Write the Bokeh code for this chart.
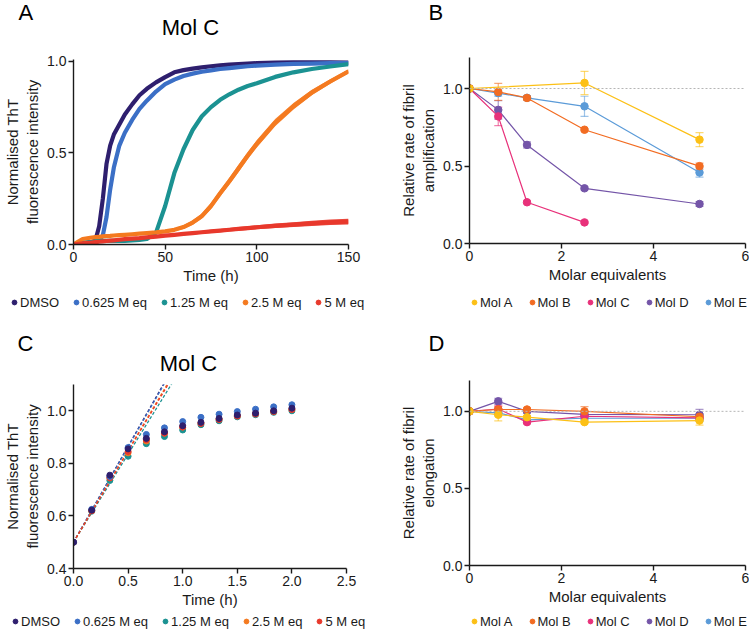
from bokeh.plotting import figure
from bokeh.models import (ColumnDataSource, Legend, LegendItem, Span, Whisker,
                          FixedTicker, NumeralTickFormatter, Range1d, TeeHead)
from bokeh.core.properties import value
from bokeh.layouts import column, row
from bokeh.embed import file_html
from bokeh.resources import INLINE

FONT = "Liberation Sans"
INK = "#1a1a1a"

# ---------------- Panel A : ThT kinetics (Mol C) ----------------
conc_labels = ["DMSO", "0.625 M eq", "1.25 M eq", "2.5 M eq", "5 M eq"]
conc_colors = ["#2e1f6e", "#3b6fc6", "#1b9292", "#f47a20", "#e8392c"]

time_h = [0, 5, 10, 12, 14, 16, 18, 20, 22, 25, 28, 32, 36, 40, 45, 50, 55, 60, 65,
          70, 75, 80, 85, 90, 95, 100, 110, 120, 130, 140, 150]
a_dmso = [0.0, 0.005, 0.012, 0.025, 0.1, 0.25, 0.44, 0.54, 0.6, 0.655, 0.71, 0.765,
          0.815, 0.85, 0.885, 0.914, 0.94, 0.952, 0.96, 0.967, 0.973, 0.978, 0.982,
          0.985, 0.988, 0.99, 0.993, 0.995, 0.995, 0.995, 0.993]
a_0625 = [0.0, 0.004, 0.008, 0.012, 0.02, 0.05, 0.15, 0.3, 0.42, 0.54, 0.61, 0.68,
          0.74, 0.785, 0.835, 0.875, 0.9, 0.92, 0.933, 0.943, 0.951, 0.958, 0.963,
          0.968, 0.973, 0.977, 0.982, 0.986, 0.988, 0.99, 0.99]
a_125 = [0.0, 0.01, 0.015, 0.018, 0.02, 0.02, 0.02, 0.02, 0.02, 0.02, 0.02, 0.022,
         0.025, 0.03, 0.065, 0.21, 0.39, 0.52, 0.625, 0.7, 0.75, 0.79, 0.82, 0.845,
         0.865, 0.88, 0.915, 0.94, 0.958, 0.972, 0.985]
a_25 = [0.0, 0.03, 0.038, 0.04, 0.042, 0.044, 0.046, 0.047, 0.049, 0.051, 0.053,
        0.056, 0.059, 0.062, 0.066, 0.072, 0.08, 0.095, 0.12, 0.155, 0.21, 0.28, 0.345,
        0.415, 0.485, 0.55, 0.665, 0.755, 0.83, 0.89, 0.945]
a_25_err = [0.0, 0.004, 0.004, 0.004, 0.004, 0.004, 0.004, 0.004, 0.004, 0.004, 0.004,
            0.004, 0.004, 0.004, 0.005, 0.006, 0.008, 0.01, 0.012, 0.014, 0.016, 0.018,
            0.019, 0.02, 0.02, 0.02, 0.02, 0.018, 0.015, 0.012, 0.01]
a_5 = [0.0, 0.006, 0.011, 0.013, 0.015, 0.017, 0.019, 0.021, 0.023, 0.026, 0.029,
       0.032, 0.035, 0.039, 0.043, 0.048, 0.053, 0.058, 0.0625, 0.067, 0.0715, 0.076,
       0.0805, 0.085, 0.0895, 0.094, 0.102, 0.109, 0.115, 0.121, 0.125]
a_5_err = [0.0, 0.001, 0.002, 0.002, 0.002, 0.003, 0.003, 0.003, 0.003, 0.004, 0.004,
           0.004, 0.005, 0.005, 0.005, 0.006, 0.006, 0.007, 0.0075, 0.008, 0.0085, 0.009,
           0.0095, 0.01, 0.0105, 0.011, 0.012, 0.013, 0.014, 0.015, 0.016]

# ---------------- Panel B : relative rate of fibril amplification ----------------
mol_labels = ["Mol A", "Mol B", "Mol C", "Mol D", "Mol E"]
mol_colors = ["#fcc016", "#f26c22", "#e8317a", "#7455a8", "#5b9bd8"]

b_x = {
    "Mol A": [0, 2.5, 5],
    "Mol B": [0, 0.625, 1.25, 2.5, 5],
    "Mol C": [0, 0.625, 1.25, 2.5],
    "Mol D": [0, 0.625, 1.25, 2.5, 5],
    "Mol E": [0, 0.625, 1.25, 2.5, 5],
}
b_y = {
    "Mol A": [1.0, 1.036, 0.67],
    "Mol B": [1.0, 0.978, 0.939, 0.734, 0.499],
    "Mol C": [1.0, 0.82, 0.266, 0.136],
    "Mol D": [1.0, 0.862, 0.636, 0.356, 0.255],
    "Mol E": [1.0, 0.97, 0.94, 0.885, 0.458],
}
b_err = {
    "Mol A": [0.0, 0.075, 0.045],
    "Mol B": [0.0, 0.055, 0.015, 0.008, 0.02],
    "Mol C": [0.0, 0.06, 0.008, 0.008],
    "Mol D": [0.0, 0.06, 0.02, 0.01, 0.015],
    "Mol E": [0.0, 0.02, 0.01, 0.065, 0.03],
}

# ---------------- Panel C : early time points (Mol C) ----------------
c_time = [0.0, 0.167, 0.333, 0.5, 0.667, 0.833, 1.0, 1.167, 1.333, 1.5, 1.667, 1.833, 2.0]
c_vals = {
    "DMSO": [0.5, 0.622, 0.755, 0.855, 0.895, 0.92, 0.943, 0.956, 0.971, 0.984, 0.991, 1.0, 1.01],
    "0.625 M eq": [0.5, 0.625, 0.75, 0.86, 0.91, 0.935, 0.959, 0.975, 0.987, 0.997, 1.006, 1.015, 1.023],
    "1.25 M eq": [0.5, 0.618, 0.735, 0.827, 0.875, 0.902, 0.927, 0.947, 0.962, 0.977, 0.985, 0.994, 1.0],
    "2.5 M eq": [0.5, 0.62, 0.745, 0.84, 0.885, 0.915, 0.938, 0.953, 0.968, 0.981, 0.989, 0.998, 1.006],
    "5 M eq": [0.5, 0.62, 0.745, 0.845, 0.89, 0.915, 0.938, 0.952, 0.967, 0.98, 0.988, 0.997, 1.005],
}
c_fit_start = 0.5
c_fit_slope = {"DMSO": 0.73, "0.625 M eq": 0.725, "1.25 M eq": 0.67, "2.5 M eq": 0.70, "5 M eq": 0.693}
c_fit_xmax = 1.0

# ---------------- Panel D : relative rate of fibril elongation ----------------
d_x = [0, 0.625, 1.25, 2.5, 5]
d_y = {
    "Mol A": [1.0, 0.978, 0.962, 0.93, 0.94],
    "Mol B": [1.0, 1.012, 1.012, 1.0, 0.965],
    "Mol C": [1.0, 1.015, 0.93, 0.968, 0.958],
    "Mol D": [1.0, 1.065, 1.0, 0.98, 0.978],
    "Mol E": [1.0, 0.99, 0.945, 0.955, 0.955],
}
d_err = {
    "Mol A": [0.0, 0.04, 0.01, 0.01, 0.03],
    "Mol B": [0.0, 0.02, 0.01, 0.03, 0.02],
    "Mol C": [0.0, 0.02, 0.01, 0.01, 0.01],
    "Mol D": [0.0, 0.02, 0.01, 0.01, 0.035],
    "Mol E": [0.0, 0.02, 0.01, 0.01, 0.02],
}


def style(p, xticks, yticks, xfmt, yfmt):
    for ax in (p.xaxis[0], p.yaxis[0]):
        ax.axis_line_color = INK
        ax.axis_line_width = 1.4
        ax.major_tick_line_color = INK
        ax.major_tick_line_width = 1.4
        ax.major_tick_out = 5
        ax.major_tick_in = 0
        ax.minor_tick_line_color = None
        ax.major_label_text_font = FONT
        ax.major_label_text_font_size = "14px"
        ax.major_label_text_color = INK
        ax.major_label_standoff = 2
        ax.axis_label_text_font = FONT
        ax.axis_label_text_font_size = "15px"
        ax.axis_label_text_font_style = "normal"
        ax.axis_label_text_color = INK
    p.xaxis[0].ticker = FixedTicker(ticks=xticks)
    p.yaxis[0].ticker = FixedTicker(ticks=yticks)
    p.xaxis[0].formatter = NumeralTickFormatter(format=xfmt)
    p.yaxis[0].formatter = NumeralTickFormatter(format=yfmt)
    p.xaxis[0].axis_label_standoff = 2
    p.yaxis[0].axis_label_standoff = 3
    p.xgrid.visible = False
    p.ygrid.visible = False
    p.outline_line_color = None


def blank(width, height):
    """A figure without axes whose frame is its whole canvas (for headings / legends)."""
    f = figure(width=width, height=height, x_range=Range1d(0, width), y_range=Range1d(0, height),
               output_backend="svg", toolbar_location=None, title=None,
               x_axis_location=None, y_axis_location=None, frame_align=False,
               min_border=0, min_border_left=0, min_border_right=0,
               min_border_top=0, min_border_bottom=0)
    f.xgrid.visible = False
    f.ygrid.visible = False
    f.outline_line_color = None
    return f


def heading(width, height, texts):
    # texts: (x from left, distance of the text's middle from the top, text, align)
    f = blank(width, height)
    for (x, mid, text, align) in texts:
        f.text(x=[x], y=[height - mid], text=[text], text_font=value(FONT),
               text_font_size="22px", text_color="#000000", text_align=align,
               text_baseline="middle")
    return f


def legend_strip(width, height, labels, colors, loc, spacing):
    f = blank(width, height)
    items = []
    for lab, col in zip(labels, colors):
        # hidden legend handle (outside the visible range), only its style is shown
        r = f.scatter(x=[-100], y=[-100], size=5, fill_color=col, line_color=col)
        items.append(LegendItem(label=lab, renderers=[r]))
    f.add_layout(Legend(items=items, orientation="horizontal", location=loc,
                        label_text_font=FONT, label_text_font_size="13px",
                        label_text_color=INK, glyph_width=12, glyph_height=12,
                        label_standoff=0, spacing=spacing, padding=0, margin=0,
                        label_height=15, border_line_color=None,
                        background_fill_alpha=0))
    return f


def rate_panel(p, xs_of, ys_of, errs_of):
    for lab, col in reversed(list(zip(mol_labels, mol_colors))):
        xs, ys, es = xs_of(lab), ys_of[lab], errs_of[lab]
        src = ColumnDataSource(dict(x=xs, y=ys,
                                    lo=[v - e for v, e in zip(ys, es)],
                                    hi=[v + e for v, e in zip(ys, es)]))
        p.add_layout(Whisker(source=src, base="x", upper="hi", lower="lo",
                             dimension="height", line_color=col, line_alpha=0.6,
                             line_width=1.2,
                             upper_head=TeeHead(size=8, line_color=col, line_alpha=0.6, line_width=1.2),
                             lower_head=TeeHead(size=8, line_color=col, line_alpha=0.6, line_width=1.2)))
        p.line(x="x", y="y", source=src, line_color=col, line_width=1.2)
        p.scatter(x="x", y="y", source=src, size=7.5, fill_color=col, line_color=col)


# ---------- A ----------
headA = heading(375, 50, [(18, 12, "A", "left"), (190, 27, "Mol C", "center")])
pA = figure(width=375, height=245, x_range=Range1d(0, 150), y_range=Range1d(0, 1.01),
            output_backend="svg", toolbar_location=None, title=None, frame_align=False,
            min_border_left=72, min_border_right=27, min_border_top=9, min_border_bottom=51)
style(pA, [0, 50, 100, 150], [0, 0.5, 1.0], "0", "0.0")
pA.xaxis[0].axis_label = "Time (h)"
pA.yaxis[0].axis_label = "Normalised ThT\nfluorescence intensity"
a_series = [a_dmso, a_0625, a_125, a_25, a_5]
a_errs = [None, None, None, a_25_err, a_5_err]
for vals, err, col in zip(a_series, a_errs, conc_colors):
    pA.line(time_h, vals, line_width=4.2, line_color=col, line_join="round")
    if err is not None:
        src = ColumnDataSource(dict(t=time_h,
                                    lo=[v - e for v, e in zip(vals, err)],
                                    hi=[v + e for v, e in zip(vals, err)]))
        pA.varea(x="t", y1="lo", y2="hi", source=src, fill_color=col, fill_alpha=0.9)
legA = legend_strip(375, 23, conc_labels, conc_colors, (8, 8.5), 11)

# ---------- B ----------
headB = heading(374, 50, [(53, 12, "B", "left")])
pB = figure(width=374, height=245, x_range=Range1d(0, 6), y_range=Range1d(0, 1.2),
            output_backend="svg", toolbar_location=None, title=None, frame_align=False,
            min_border_left=94, min_border_right=4, min_border_top=7, min_border_bottom=52)
style(pB, [0, 2, 4, 6], [0, 0.5, 1.0], "0", "0.0")
pB.xaxis[0].axis_label = "Molar equivalents"
pB.yaxis[0].axis_label = "Relative rate of fibril\namplification"
pB.add_layout(Span(location=1.0, dimension="width", line_color="#b5b5b5",
                   line_width=1, line_dash="2 2"))
rate_panel(pB, lambda lab: b_x[lab], b_y, b_err)
legB = legend_strip(374, 23, mol_labels, mol_colors, (93, 8.5), 13)

# ---------- C ----------
headC = heading(375, 62, [(17, 25, "C", "left"), (188, 45, "Mol C", "center")])
pC = figure(width=375, height=232, x_range=Range1d(0, 2.5), y_range=Range1d(0.4, 1.1),
            output_backend="svg", toolbar_location=None, title=None, frame_align=False,
            min_border_left=69, min_border_right=29, min_border_top=4, min_border_bottom=44)
style(pC, [0, 0.5, 1.0, 1.5, 2.0, 2.5], [0.4, 0.6, 0.8, 1.0], "0.0", "0.0")
pC.xaxis[0].axis_label = "Time (h)"
pC.yaxis[0].axis_label = "Normalised ThT\nfluorescence intensity"
for lab, col in zip(conc_labels, conc_colors):
    s = c_fit_slope[lab]
    pC.line([0, c_fit_xmax], [c_fit_start, c_fit_start + s * c_fit_xmax],
            line_color=col, line_width=1.3, line_dash="3 2")
for lab in ["1.25 M eq", "2.5 M eq", "5 M eq", "0.625 M eq", "DMSO"]:
    col = conc_colors[conc_labels.index(lab)]
    pC.scatter(c_time, c_vals[lab], size=6, fill_color=col, line_color=col)
legC = legend_strip(375, 18, conc_labels, conc_colors, (9, 1.5), 11)

# ---------- D ----------
headD = heading(374, 60, [(53, 25, "D", "left")])
pD = figure(width=374, height=234, x_range=Range1d(0, 6), y_range=Range1d(0, 1.2),
            output_backend="svg", toolbar_location=None, title=None, frame_align=False,
            min_border_left=94, min_border_right=4, min_border_top=2, min_border_bottom=47)
style(pD, [0, 2, 4, 6], [0, 0.5, 1.0], "0", "0.0")
pD.xaxis[0].axis_label = "Molar equivalents"
pD.yaxis[0].axis_label = "Relative rate of fibril\nelongation"
pD.add_layout(Span(location=1.0, dimension="width", line_color="#b5b5b5",
                   line_width=1, line_dash="2 2"))
rate_panel(pD, lambda lab: d_x, d_y, d_err)
legD = legend_strip(374, 18, mol_labels, mol_colors, (93, 1.5), 13)

layout = column(row(column(headA, pA, legA), column(headB, pB, legB)),
                row(column(headC, pC, legC), column(headD, pD, legD)))
open("out.html", "w").write(file_html(layout, INLINE))
